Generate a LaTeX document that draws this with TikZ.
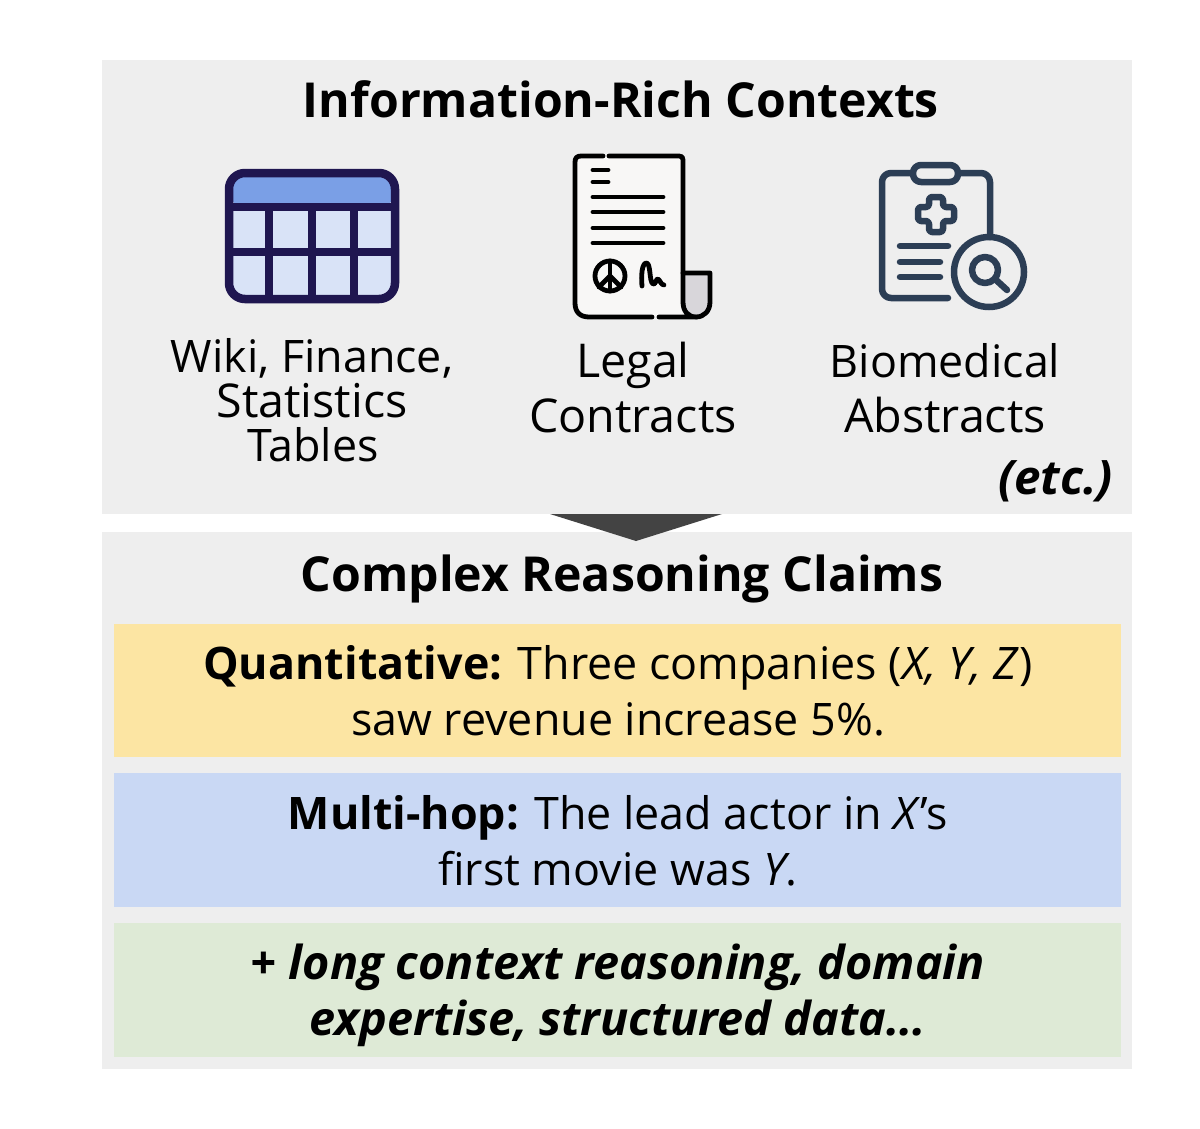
\documentclass[tikz,border=0pt]{standalone}
\usepackage{fontspec}
\setmainfont{Open Sans}
\definecolor{panel}{HTML}{EEEEEE}
\definecolor{yel}{HTML}{FCE5A3}
\definecolor{blu}{HTML}{C9D8F4}
\definecolor{gre}{HTML}{DEEAD6}
\definecolor{tri}{HTML}{434343}
\definecolor{navy}{HTML}{1F1650}
\definecolor{head}{HTML}{7A9FE6}
\definecolor{cell}{HTML}{D9E3F7}
\definecolor{slate}{HTML}{2C3E55}
\definecolor{paper}{HTML}{F8F7F6}
\definecolor{curl}{HTML}{D8D6DA}
\tikzset{
 txt/.style={inner sep=0pt,anchor=base,text=black},
 body/.style={txt,font=\fontsize{44.8}{45}\selectfont},
 bodyl/.style={txt,font=\fontsize{46.6}{47}\selectfont},
 ttl/.style={txt,font=\fontsize{48.2}{48}\selectfont\bfseries},
 bi/.style={txt,font=\fontsize{46.8}{47}\selectfont\bfseries\itshape},
 navyline/.style={draw=navy,line width=8.5},
 doc/.style={draw=black,line width=4.8,line cap=round,line join=round},
 clip/.style={draw=slate,line width=6.5,line cap=round,line join=round}
}
\begin{document}
\begin{tikzpicture}[x=1pt,y=-1pt]
\useasboundingbox (0,0) rectangle (1200,1128);
\fill[white] (0,0) rectangle (1200,1128);
% panels
\fill[panel] (102,60) rectangle (1132,514);
\fill[panel] (102,532) rectangle (1132,1069);
\fill[tri] (550,514) -- (722,514) -- (636,541) -- cycle;
\fill[yel] (114,624) rectangle (1121,757);
\fill[blu] (114,773) rectangle (1121,907);
\fill[gre] (114,923) rectangle (1121,1057);
% table icon
\fill[cell,rounded corners=16] (229,173) rectangle (395,299);
\fill[head,rounded corners=16] (229,207) -- (229,173) -- (395,173) -- (395,207) -- cycle;
\draw[navyline] (229,207) -- (398,207);
\draw[navyline] (229,252) -- (395,252);
\draw[navyline] (269,207) -- (269,299);
\draw[navyline] (312,207) -- (312,299);
\draw[navyline] (354,207) -- (354,299);
\draw[navyline,rounded corners=16] (229,173) rectangle (395,299);
% document icon
\fill[paper,rounded corners=6] (575,156) rectangle (683,317);
\fill[curl] (683,273) -- (710,273) -- (710,302) .. controls (710,312) and (702,317) .. (695,317) .. controls (688,317) and (683,310) .. (683,302) -- cycle;
\draw[doc] (603,156) -- (581,156) .. controls (577,156) and (575,158) .. (575,162) -- (575,303) .. controls (575,312) and (580,317) .. (589,317) -- (652,317);
\draw[doc] (609,156) -- (679,156) .. controls (682,156) and (683,157) .. (683,160) -- (683,302) .. controls (683,311) and (688,317) .. (696,317) -- (659,317);
\draw[doc] (683,273) -- (710,273) -- (710,302) .. controls (710,311) and (704,317) .. (696,317);
\draw[doc] (593,170) -- (608,170);
\draw[doc] (593,182) -- (608,182);
\draw[doc] (593,197) -- (663,197);
\draw[doc] (593,212) -- (663,212);
\draw[doc] (593,228) -- (663,228);
\draw[doc] (593,243) -- (663,243);
\draw[doc] (610,276) circle (15);
\draw[doc] (610,261) -- (610,291);
\draw[doc] (610,276) -- (599,287);
\draw[doc] (610,276) -- (621,287);
\draw[doc] (642,286) .. controls (641,275) and (642,264) .. (646,263) .. controls (651,262) and (649,282) .. (653,284) .. controls (656,285) and (656,278) .. (658,279) .. controls (660,280) and (661,285) .. (664,285);
% clipboard icon
\draw[clip,rounded corners=9] (913,173) -- (882,173) -- (882,298) -- (948,298);
\draw[clip,rounded corners=9] (958,173) -- (990,173) -- (990,237);
\draw[clip,fill=panel,rounded corners=8] (913,165) rectangle (958,182);
\draw[clip,rounded corners=3] (929,197) -- (943,197) -- (943,207) -- (954,207) -- (954,221) -- (943,221) -- (943,232) -- (929,232) -- (929,221) -- (918,221) -- (918,207) -- (929,207) -- cycle;
\draw[clip] (900,246) -- (948,246);
\draw[clip] (900,262) -- (940,262);
\draw[clip] (900,277) -- (940,277);
\draw[clip] (989,272) circle (35);
\draw[clip] (985,270) circle (13);
\draw[clip] (995,279) -- (1007,290);
% texts
\node[ttl] (t1) at (621,117) {Information-Rich Contexts};
\node[body] (w1) at (312,372) {Wiki, Finance,};
\node[bodyl] (w2) at (312,417) {Statistics};
\node[body] (w3) at (313,461) {Tables};
\node[bodyl] (l1) at (633,377) {Legal};
\node[bodyl] (l2) at (633,432) {Contracts};
\node[body] (b1) at (945,377) {Biomedical};
\node[bodyl] (b2) at (945,432) {Abstracts};
\node[txt,anchor=base east,font=\fontsize{47.5}{48}\selectfont\bfseries\itshape] (e) at (1113,494) {(etc.)};
\node[ttl] (t2) at (622,591) {Complex Reasoning Claims};
\node[body] (q1) at (618,679) {\textbf{Quantitative:} Three companies (\textit{X, Y, Z})};
\node[body] (q2) at (618,735) {saw revenue increase 5\%.};
\node[body] (m1) at (618,829) {\textbf{Multi-hop:} The lead actor in \textit{X}’s};
\node[body] (m2) at (618,885) {first movie was \textit{Y}.};
\node[bi] (g1) at (618,979) {+ long context reasoning, domain};
\node[bi] (g2) at (618,1035) {expertise, structured data...};
\end{tikzpicture}
\end{document}
